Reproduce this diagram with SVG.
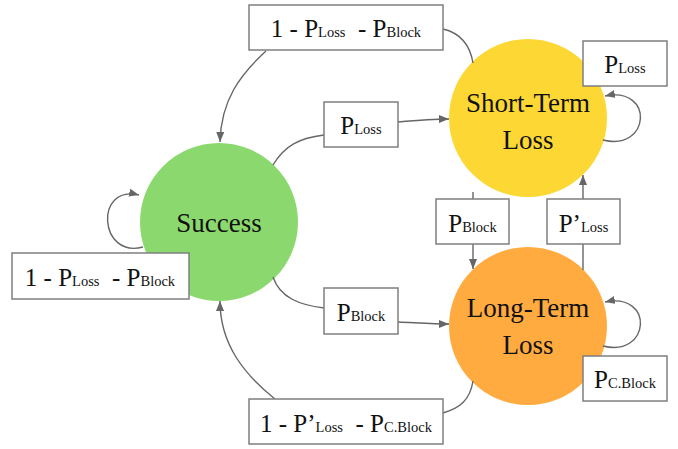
<svg xmlns="http://www.w3.org/2000/svg" width="678" height="449" viewBox="0 0 678 449">
  <style>
    .lbl { font-family: "Liberation Serif", "Times New Roman", serif; fill: #111; }
    .state { font-size: 27px; text-anchor: middle; }
    .prob { font-size: 25px; text-anchor: middle; }
    .sub { font-size: 14.5px; }
    .box { fill: #fff; stroke: #7f7f7f; stroke-width: 1.5; }
    .edge { fill: none; stroke: #666; stroke-width: 1.4; }
  </style>
  <defs>
    <marker id="arrow" markerWidth="10" markerHeight="8" refX="10" refY="4" orient="auto" markerUnits="userSpaceOnUse">
      <path d="M0,0 L10,4 L0,8 Z" fill="#666"/>
    </marker>
  </defs>

  <rect width="678" height="449" fill="#fff"/>

  <!-- states -->
  <g id="success">
    <circle cx="219" cy="222" r="79" fill="#8bd96e"/>
    <text class="lbl state" x="219" y="232">Success</text>
  </g>
  <g id="short-term-loss">
    <circle cx="528" cy="118" r="79" fill="#fdd835"/>
    <text class="lbl state" x="528" y="112">Short-Term</text>
    <text class="lbl state" x="528" y="149">Loss</text>
  </g>
  <g id="long-term-loss">
    <circle cx="528" cy="326" r="79" fill="#ffab40"/>
    <text class="lbl state" x="528" y="317">Long-Term</text>
    <text class="lbl state" x="528" y="354">Loss</text>
  </g>

  <!-- transitions -->
  <g id="connectors">
    <!-- short-term -> success -->
    <path class="edge" d="M473,63 C470,45 460,33 443,29"/>
    <path class="edge" d="M266,51 C240,75 221,100 220,142" marker-end="url(#arrow)"/>
    <!-- success -> short-term -->
    <path class="edge" d="M273,165 C285,145 300,138 324,135"/>
    <path class="edge" d="M398,122 C420,120 435,119 449,119" marker-end="url(#arrow)"/>
    <!-- success -> long-term -->
    <path class="edge" d="M273,277 C280,298 300,305 324,308"/>
    <path class="edge" d="M398,322 C420,323 435,324 449,324" marker-end="url(#arrow)"/>
    <!-- short-term -> long-term -->
    <path class="edge" d="M473,192 L473,199"/>
    <path class="edge" d="M473,244 L473,269" marker-end="url(#arrow)"/>
    <!-- long-term -> short-term -->
    <path class="edge" d="M583,270 L583,244"/>
    <path class="edge" d="M583,199 L583,175" marker-end="url(#arrow)"/>
    <!-- long-term -> success -->
    <path class="edge" d="M473,381 C470,400 460,408 443,413"/>
    <path class="edge" d="M275,399 C245,375 220,345 220,301" marker-end="url(#arrow)"/>
    <!-- self loops -->
    <path class="edge" d="M143,247 C99,259 94,184 139,195" marker-end="url(#arrow)"/>
    <path class="edge" d="M603,140 C650,152 655,86 605,96" marker-end="url(#arrow)"/>
    <path class="edge" d="M603,346 C650,358 655,292 605,302" marker-end="url(#arrow)"/>
  </g>

  <!-- probability labels -->
  <g id="p-st-success">
    <rect class="box" x="249" y="5" width="194" height="45"/>
    <text class="lbl prob" x="346" y="37" xml:space="preserve">1 - P<tspan class="sub">Loss</tspan>  - P<tspan class="sub">Block</tspan></text>
  </g>
  <g id="p-success-self">
    <rect class="box" x="12" y="253" width="177" height="46"/>
    <text class="lbl prob" x="100" y="286" xml:space="preserve">1 - P<tspan class="sub">Loss</tspan>  - P<tspan class="sub">Block</tspan></text>
  </g>
  <g id="p-lt-success">
    <rect class="box" x="249" y="399" width="194" height="45"/>
    <text class="lbl prob" x="346" y="432" xml:space="preserve">1 - P’<tspan class="sub">Loss</tspan>  - P<tspan class="sub">C.Block</tspan></text>
  </g>
  <g id="p-success-st">
    <rect class="box" x="324" y="102" width="74" height="45"/>
    <text class="lbl prob" x="361" y="134">P<tspan class="sub">Loss</tspan></text>
  </g>
  <g id="p-success-lt">
    <rect class="box" x="324" y="288" width="74" height="46"/>
    <text class="lbl prob" x="361" y="321">P<tspan class="sub">Block</tspan></text>
  </g>
  <g id="p-st-lt">
    <rect class="box" x="436" y="199" width="73" height="45"/>
    <text class="lbl prob" x="472.5" y="232">P<tspan class="sub">Block</tspan></text>
  </g>
  <g id="p-lt-st">
    <rect class="box" x="547" y="199" width="73" height="45"/>
    <text class="lbl prob" x="583.5" y="232">P’<tspan class="sub">Loss</tspan></text>
  </g>
  <g id="p-st-self">
    <rect class="box" x="583" y="41" width="84" height="45"/>
    <text class="lbl prob" x="625" y="73">P<tspan class="sub">Loss</tspan></text>
  </g>
  <g id="p-lt-self">
    <rect class="box" x="583" y="356" width="84" height="45"/>
    <text class="lbl prob" x="625" y="388">P<tspan class="sub">C.Block</tspan></text>
  </g>
</svg>
